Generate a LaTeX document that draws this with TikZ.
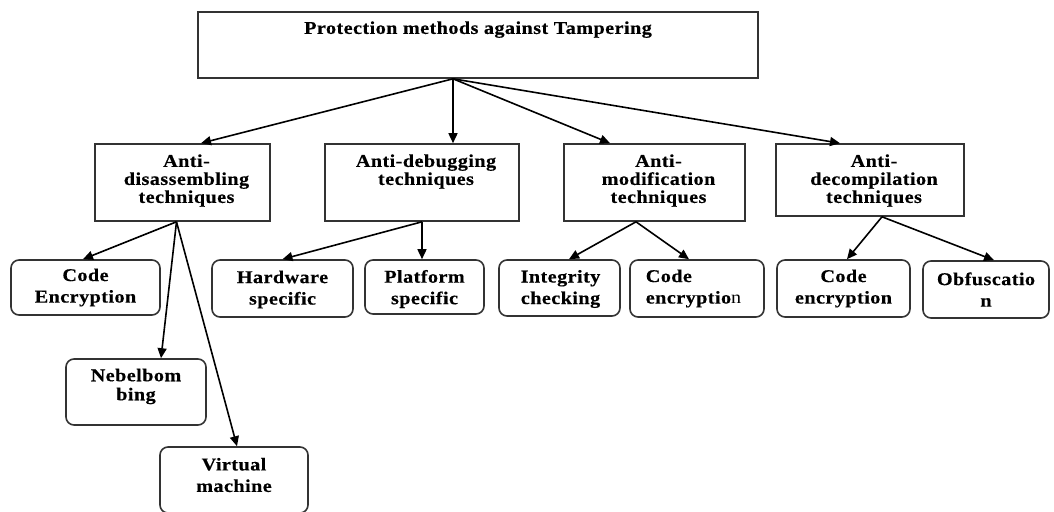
\documentclass[tikz,border=0pt]{standalone}
\usepackage{fontspec}
\setmainfont{Liberation Serif}[FakeStretch=1.12, LetterSpace=2.5, BoldFeatures={FakeBold=0.4}]
\usetikzlibrary{arrows.meta}

\tikzset{
  plainbox/.style={draw=black!80, line width=1.6pt, rectangle, inner sep=0pt},
  roundbox/.style={plainbox, rounded corners=8pt},
  toptext/.style={font=\bfseries\fontsize{18}{18}\selectfont, align=center, inner sep=0pt, anchor=north},
  leaftext/.style={font=\bfseries\fontsize{18}{21.5}\selectfont, align=center, inner sep=0pt},
  link/.style={-{Triangle[length=10pt,width=9pt]}, line width=1.6pt, black}
}

\begin{document}
\begin{tikzpicture}[x=1pt, y=-1pt]
\useasboundingbox (0,0) rectangle (1054,511);
\clip (0,0) rectangle (1054,511);

% root
\node[plainbox, minimum width=560pt, minimum height=66pt] (top) at (478,45) {};
\node[toptext] (toplbl) at ([yshift=-10pt]top.north) {Protection methods against Tampering};

% second level
\node[plainbox, minimum width=175pt, minimum height=77pt] (dis) at (182.5,182.5) {};
\node[plainbox, minimum width=194pt, minimum height=77pt] (deb) at (422,182.5) {};
\node[plainbox, minimum width=181pt, minimum height=77pt] (mod) at (654.5,182.5) {};
\node[plainbox, minimum width=188pt, minimum height=72pt] (dec) at (870,180) {};
\node[toptext] (dislbl) at ([xshift=4pt,yshift=-11pt]dis.north) {Anti-\\disassembling\\techniques};
\node[toptext] (deblbl) at ([xshift=4pt,yshift=-11pt]deb.north) {Anti-debugging\\techniques};
\node[toptext] (modlbl) at ([xshift=4pt,yshift=-11pt]mod.north) {Anti-\\modification\\techniques};
\node[toptext] (declbl) at ([xshift=4pt,yshift=-11pt]dec.north) {Anti-\\decompilation\\techniques};

% leaves
\node[roundbox, minimum width=149pt, minimum height=55pt] (ce1) at (85.5,287.5) {};
\node[roundbox, minimum width=140pt, minimum height=66pt] (neb) at (136,392) {};
\node[roundbox, minimum width=148pt, minimum height=66pt] (vm) at (234,480) {};
\node[roundbox, minimum width=141pt, minimum height=57pt] (hw) at (282.5,288.5) {};
\node[roundbox, minimum width=119pt, minimum height=54pt] (plat) at (424.5,287) {};
\node[roundbox, minimum width=121pt, minimum height=56pt] (integ) at (559.5,288) {};
\node[roundbox, minimum width=134pt, minimum height=57pt] (ce2) at (697,288.5) {};
\node[roundbox, minimum width=133pt, minimum height=57pt] (ce3) at (843.5,288.5) {};
\node[roundbox, minimum width=126pt, minimum height=57pt] (obf) at (986,289.5) {};

\node[leaftext] (ce1lbl) at (ce1.center) {Code\\Encryption};
\node[leaftext, font=\bfseries\fontsize{18}{19}\selectfont] (neblbl) at ([yshift=5.5pt]neb.center) {Nebelbom\\bing};
\node[leaftext] (vmlbl) at ([yshift=5pt]vm.center) {Virtual\\machine};
\node[leaftext] (hwlbl) at ([yshift=-1pt]hw.center) {Hardware\\specific};
\node[leaftext] (platlbl) at ([yshift=-2pt]plat.center) {Platform\\specific};
\node[leaftext] (integlbl) at ([xshift=1pt,yshift=-1pt]integ.center) {Integrity\\checking};
\node[leaftext, align=left] (ce2lbl) at ([xshift=-3.5pt]ce2.center) {Code\\encryptio{\mdseries n}};
\node[leaftext] (ce3lbl) at (ce3.center) {Code\\encryption};
\node[leaftext] (obflbl) at (obf.center) {Obfuscatio\\n};

% root to second level
\draw[link] ([xshift=-25pt]top.south) -- ([xshift=18.5pt]dis.north);
\draw[link] ([xshift=-25pt]top.south) -- ([xshift=31pt]deb.north);
\draw[link] ([xshift=-25pt]top.south) -- ([xshift=-44.5pt]mod.north);
\draw[link] ([xshift=-25pt]top.south) -- ([xshift=-30pt]dec.north);

% second level to leaves
\draw[link] ([xshift=-6pt]dis.south) -- ([xshift=-2.5pt]ce1.north);
\draw[link] ([xshift=-6pt]dis.south) -- ([xshift=25pt]neb.north);
\draw[link] ([xshift=-6pt]dis.south) -- ([xshift=3pt]vm.north);
\draw[link] (deb.south) -- (hw.north);
\draw[link] (deb.south) -- ([xshift=-2.5pt]plat.north);
\draw[link] ([xshift=-18.5pt]mod.south) -- ([xshift=9.5pt]integ.north);
\draw[link] ([xshift=-18.5pt]mod.south) -- ([xshift=-8pt]ce2.north);
\draw[link] ([xshift=12pt]dec.south) -- ([xshift=3.5pt]ce3.north);
\draw[link] ([xshift=12pt]dec.south) -- ([xshift=8pt]obf.north);
\end{tikzpicture}
\end{document}
